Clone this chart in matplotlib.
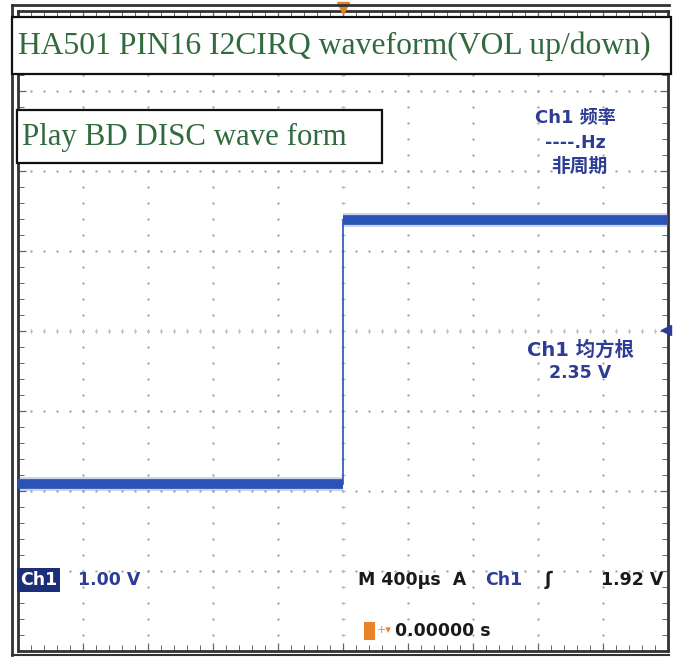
import matplotlib
matplotlib.use("Agg")
import matplotlib.pyplot as plt
import numpy as np
from matplotlib.patches import Rectangle
from matplotlib.lines import Line2D

# scope settings
time_per_div = 400          # us / div
volts_per_div = 1.00        # V / div
ground_div = -1.91          # ch1 ground marker, in divisions from centre
trig_level = 1.92           # V

# trace (time in us, volts)
trace_t = [-2000, 0, 0, 2000]
trace_v = [0.00, 0.00, 3.30, 3.30]

rms_text = "2.35 V"

W, H = 675, 667
fig = plt.figure(figsize=(W / 100, H / 100), dpi=100)
fig.patch.set_facecolor("white")


def fx(px):
    return px / W


def fy(py):
    return 1 - py / H


ax = fig.add_axes([fx(18), fy(651), fx(668) - fx(18), fy(11) - fy(651)])
ax.set_facecolor("white")

x0, x1 = -5 * time_per_div, 5 * time_per_div
y0 = (-4 - ground_div) * volts_per_div
y1 = (4 - ground_div) * volts_per_div
ax.set_xlim(x0, x1)
ax.set_ylim(y0, y1)

# dotted graticule
xmaj = np.linspace(x0, x1, 11)
ymaj = np.linspace(y0, y1, 9)
xmin_ = np.linspace(x0, x1, 51)
ymin_ = np.linspace(y0, y1, 41)
dot_c = "#a8a8a8"
for xv in xmaj[1:-1]:
    ax.scatter(np.full(len(ymin_), xv), ymin_, s=3, c=dot_c, lw=0, zorder=1)
for yv in ymaj[1:-1]:
    ax.scatter(xmin_, np.full(len(xmin_), yv), s=3, c=dot_c, lw=0, zorder=1)

# centre crosshair tick marks
xc, yc = 0.0, (y0 + y1) / 2
tl_y = 0.03 * volts_per_div
tl_x = 0.03 * time_per_div
for xv in xmin_:
    ax.plot([xv, xv], [yc - tl_y, yc + tl_y], color="#c4c4c4", lw=0.7, zorder=1)
for yv in ymin_:
    ax.plot([xc - tl_x, xc + tl_x], [yv, yv], color="#c4c4c4", lw=0.7, zorder=1)

ax.set_xticks(xmaj)
ax.set_yticks(ymaj)
ax.set_xticks(xmin_, minor=True)
ax.set_yticks(ymin_, minor=True)
ax.tick_params(which="both", direction="in", top=True, right=True,
               labelbottom=False, labelleft=False, color="#666666")
ax.tick_params(which="major", length=6, width=0.9)
ax.tick_params(which="minor", length=4, width=0.7)
for s in ax.spines.values():
    s.set_linewidth(2)
    s.set_color("#333333")

# trace
trace_c = "#2b52b5"
for lw, a in [(10, 0.25), (7, 1.0)]:
    ax.plot(trace_t[:2], trace_v[:2], color=trace_c, lw=lw, alpha=a,
            solid_capstyle="butt", zorder=3)
    ax.plot(trace_t[2:], trace_v[2:], color=trace_c, lw=lw, alpha=a,
            solid_capstyle="butt", zorder=3)
ax.plot(trace_t[1:3], trace_v[1:3], color=trace_c, lw=1.2, zorder=3)

# trigger level marker and trigger position marker
ax.plot([x1 - 0.03 * time_per_div], [trig_level], marker="<", ms=7,
        color="#2d3c94", clip_on=False, zorder=5)
ax.plot([0], [y1 + 0.04], marker="v", ms=8, color="#e0822a",
        clip_on=False, zorder=5)

# outer frame (left ruler and top strip)
fig.add_artist(Line2D([fx(12), fx(12)], [fy(5), fy(655)], color="#333333", lw=2))
fig.add_artist(Line2D([fx(12), fx(669)], [fy(5), fy(5)], color="#333333", lw=2))
fig.add_artist(Line2D([fx(12), fx(669)], [fy(655), fy(655)], color="#333333", lw=1.5))

# annotation boxes
green = "#2f6b3c"
fig.add_artist(Rectangle((fx(12), fy(74)), fx(671) - fx(12), fy(17) - fy(74),
                         transform=fig.transFigure, facecolor="white",
                         edgecolor="#111111", lw=1.6, zorder=10))
fig.text(fx(18), fy(46), "HA501 PIN16 I2CIRQ waveform(VOL up/down)",
         family="Liberation Serif", fontsize=22.8, color=green,
         va="center", ha="left", zorder=11)

fig.add_artist(Rectangle((fx(17), fy(163)), fx(382) - fx(17), fy(110) - fy(163),
                         transform=fig.transFigure, facecolor="white",
                         edgecolor="#111111", lw=1.6, zorder=10))
fig.text(fx(22), fy(137), "Play BD DISC wave form",
         family="Liberation Serif", fontsize=22.2, color=green,
         va="center", ha="left", zorder=11)

# measurement readouts
blue = "#2d3c94"
fam = ["DejaVu Sans", "Noto Sans CJK SC"]
fig.text(fx(575), fy(118), "Ch1 频率", family=fam, fontsize=13,
         fontweight="bold", color=blue, ha="center", va="center")
fig.text(fx(575), fy(143), "----.Hz", family=fam, fontsize=12.5,
         fontweight="bold", color=blue, ha="center", va="center")
fig.text(fx(579), fy(166), "非周期", family=fam, fontsize=13.5,
         fontweight="bold", color=blue, ha="center", va="center")
fig.text(fx(581), fy(350), "Ch1 均方根", family=fam, fontsize=14,
         fontweight="bold", color=blue, ha="center", va="center")
fig.text(fx(580), fy(373), rms_text, family=fam, fontsize=12.5,
         fontweight="bold", color=blue, ha="center", va="center")

# bottom status line
fig.text(fx(20), fy(580), "Ch1", family=fam, fontsize=12.5, fontweight="bold",
         color="white", ha="left", va="center",
         bbox=dict(boxstyle="square,pad=0.15", facecolor="#1c2e78", edgecolor="none"))
fig.text(fx(78), fy(580), f"{volts_per_div:.2f} V", family=fam, fontsize=12.5,
         fontweight="bold", color=blue, ha="left", va="center")
fig.text(fx(358), fy(580), f"M {time_per_div}µs  A", family=fam, fontsize=12.5,
         fontweight="bold", color="#1a1a1a", ha="left", va="center")
fig.text(fx(485), fy(580), "Ch1", family=fam, fontsize=12.5,
         fontweight="bold", color=blue, ha="left", va="center")
fig.text(fx(545), fy(580), "ʃ", family=fam, fontsize=13,
         fontweight="bold", color="#1a1a1a", ha="left", va="center")
fig.text(fx(663), fy(580), f"{trig_level:.2f} V", family=fam, fontsize=12.5,
         fontweight="bold", color="#1a1a1a", ha="right", va="center")

fig.add_artist(Rectangle((fx(364), fy(640)), fx(375) - fx(364), fy(622) - fy(640),
                         transform=fig.transFigure, facecolor="#e8832a",
                         edgecolor="none"))
fig.text(fx(377), fy(630), "+▾", family=fam, fontsize=8, color="#e8832a",
         ha="left", va="center")
fig.text(fx(395), fy(631), "0.00000 s", family=fam, fontsize=12.5,
         fontweight="bold", color="#1a1a1a", ha="left", va="center")

fig.savefig("out.png", dpi=100, facecolor="white")
